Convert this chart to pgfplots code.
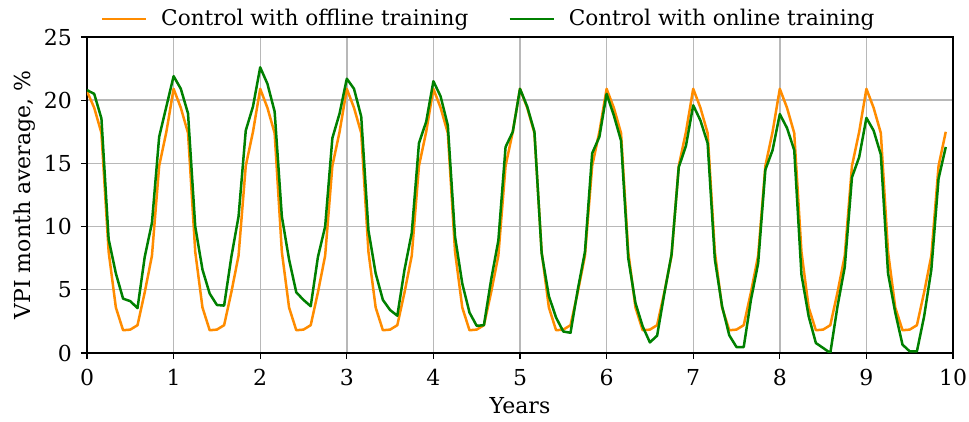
\documentclass[border=0pt]{standalone}
\usepackage{fontspec}
\setmainfont{DejaVu Serif}
\usepackage{pgfplots}
\usepackage{pgfplotstable}
\pgfplotsset{compat=1.18}
\definecolor{corange}{RGB}{255,140,0}
\definecolor{cgreen}{RGB}{0,128,0}
\pgfplotstableread{
m off on
0 20.7 20.8
1 19.4 20.5
2 17.4 18.55
3 8.0 9.0
4 3.6 6.3
5 1.8 4.3
6 1.85 4.1
7 2.2 3.55
8 4.8 7.6
9 7.7 10.3
10 14.8 17.1
11 17.5 19.5
12 20.9 21.9
13 19.4 20.9
14 17.4 18.95
15 8.0 10.0
16 3.6 6.6
17 1.8 4.7
18 1.85 3.8
19 2.2 3.75
20 4.8 7.6
21 7.7 10.8
22 14.8 17.6
23 17.5 19.5
24 20.9 22.6
25 19.4 21.3
26 17.4 19.1
27 8.0 10.8
28 3.6 7.4
29 1.8 4.8
30 1.85 4.2
31 2.2 3.7
32 4.8 7.6
33 7.7 10.0
34 14.8 17.0
35 17.5 18.95
36 20.9 21.7
37 19.4 20.9
38 17.4 18.7
39 8.0 9.7
40 3.6 6.3
41 1.8 4.2
42 1.85 3.4
43 2.2 2.95
44 4.8 6.6
45 7.7 9.5
46 14.8 16.6
47 17.5 18.3
48 20.9 21.5
49 19.4 20.3
50 17.4 18.0
51 8.0 9.2
52 3.6 5.5
53 1.8 3.2
54 1.85 2.15
55 2.2 2.2
56 4.8 5.8
57 7.7 8.9
58 14.8 16.3
59 17.5 17.5
60 20.9 20.9
61 19.4 19.5
62 17.4 17.5
63 8.0 7.9
64 3.6 4.5
65 1.8 2.8
66 1.85 1.7
67 2.2 1.6
68 4.8 5.0
69 7.7 8.0
70 14.8 15.8
71 17.5 17.1
72 20.9 20.5
73 19.4 18.8
74 17.4 16.8
75 8.0 7.5
76 3.6 3.95
77 1.8 2.1
78 1.85 0.84
79 2.2 1.37
80 4.8 4.7
81 7.7 7.8
82 14.8 14.7
83 17.5 16.4
84 20.9 19.6
85 19.4 18.4
86 17.4 16.6
87 8.0 7.4
88 3.6 3.7
89 1.8 1.4
90 1.85 0.47
91 2.2 0.47
92 4.8 4.2
93 7.7 7.1
94 14.8 14.5
95 17.5 16.05
96 20.9 18.9
97 19.4 17.8
98 17.4 16.05
99 8.0 6.2
100 3.6 2.9
101 1.8 0.79
102 1.85 0.4
103 2.2 0.0
104 4.8 3.7
105 7.7 6.8
106 14.8 13.9
107 17.5 15.5
108 20.9 18.6
109 19.4 17.6
110 17.4 15.7
111 8.0 6.3
112 3.6 3.2
113 1.8 0.66
114 1.85 0.13
115 2.2 0.13
116 4.8 2.9
117 7.7 6.6
118 14.8 13.8
119 17.5 16.3
}\datatable
\begin{document}
\begin{tikzpicture}
\useasboundingbox (-43.5pt,-34.5pt) rectangle (441pt,176.5pt);
\begin{axis}[
  at={(0pt,0pt)}, anchor=south west,
  scale only axis,
  width=433pt, height=158pt,
  xmin=0, xmax=10, ymin=0, ymax=25,
  xtick={0,1,...,10}, ytick={0,5,...,25},
  grid=major,
  major grid style={draw=black!28, line width=0.7pt},
  axis line style={line width=0.6pt},
  tick style={black, line width=0.6pt},
  tick align=outside, major tick length=3pt,
  xtick pos=bottom, ytick pos=left,
  /pgf/number format/assume math mode=true,
  ticklabel style={font=\fontsize{11}{12}\selectfont},
  xticklabel style={yshift=-1.5pt},
  yticklabel style={xshift=-1pt},
  label style={font=\fontsize{11}{12}\selectfont},
  xlabel={Years}, ylabel={VPI month average, \%},
  xlabel style={at={(axis description cs:0.5,-0.168)}, anchor=center},
  ylabel style={at={(axis description cs:-0.0716,0.5)}, anchor=center},
  legend style={draw=none, fill=none, at={(rel axis cs:0.465,1.0)}, anchor=south,
    legend columns=2, font=\fontsize{10.8}{12}\selectfont,
    /tikz/every odd column/.append style={column sep=5pt},
    /tikz/every even column/.append style={column sep=18pt}},
  legend image code/.code={\draw[#1, line width=1.2pt] (0pt,0pt) -- (22pt,0pt);},
]
\addplot[corange, line width=1.25pt, line join=round] table[x expr=\thisrow{m}/12, y=off] {\datatable};
\addlegendentry{Control with offline training}
\addplot[cgreen, line width=1.25pt, line join=round] table[x expr=\thisrow{m}/12, y=on] {\datatable};
\addlegendentry{Control with online training}
\end{axis}
\end{tikzpicture}
\end{document}
